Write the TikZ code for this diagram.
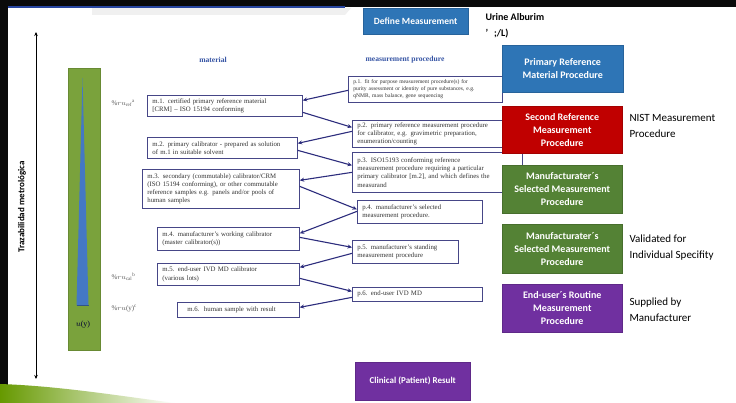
\documentclass[tikz,border=0pt]{standalone}
\usepackage{fontspec}
\setmainfont{Liberation Serif}
\setsansfont{Carlito}
\usetikzlibrary{arrows.meta}
\definecolor{mborder}{RGB}{70,70,135}
\definecolor{arrcol}{RGB}{45,45,125}
\definecolor{hdrblue}{RGB}{55,85,165}
\definecolor{defblue}{RGB}{46,117,182}
\definecolor{redbox}{RGB}{192,0,0}
\definecolor{greenbox}{RGB}{84,130,53}
\definecolor{purplebox}{RGB}{112,48,160}
\definecolor{bargreen}{RGB}{122,162,60}
\definecolor{triblue}{RGB}{68,120,196}
\definecolor{swgreen}{RGB}{102,153,0}
\definecolor{topblue}{RGB}{40,70,160}
\definecolor{bandblack}{RGB}{10,10,10}
\begin{document}
\begin{tikzpicture}[x=1pt,y=-1pt,
  mbox/.style={draw=mborder, line width=0.7pt, fill=white, anchor=north west, align=left,
    font=\fontsize{6.8}{8.2}\selectfont, inner xsep=5pt, inner ysep=1.5pt, text=black!80},
  mb/.style n args={2}{mbox, text width=#1-10pt, minimum height=#2},
  cbox/.style={draw=#1!85!black, line width=0.5pt, fill=#1, text=white, anchor=north west,
    font=\sffamily\bfseries\fontsize{10}{13}\selectfont, align=center, inner sep=1pt},
  cb/.style n args={3}{cbox=#1, minimum width=#2, minimum height=#3},
  arr/.style={draw=arrcol, line width=1.1pt, -{Stealth[length=4.5pt,width=4pt]}},
  side/.style={anchor=west, align=left, font=\sffamily\fontsize{11}{16}\selectfont, text=black},
  hdr/.style={font=\bfseries\fontsize{7.6}{9}\selectfont, text=hdrblue},
  rul/.style={anchor=west, font=\fontsize{7}{8}\selectfont, text=black!65},
  band/.style={fill=bandblack, draw=none, inner sep=0pt, anchor=north west}
]
\useasboundingbox (0,0) rectangle (736,403);
\fill[white] (0,0) rectangle (736,403);
% frame decorations
\node[band, minimum width=736pt, minimum height=7pt] (topband) at (0,0) {};
\node[band, minimum width=8pt, minimum height=386pt] (leftband) at (0,0) {};
\fill[gray!12] (92,8) -- (351,8) -- (345,15) -- (92,15) -- cycle;
\fill[topblue] (8,6.5) rectangle (345,8.5);
\shade[left color=swgreen, middle color=swgreen, right color=white]
  (0,384) .. controls (60,386) and (120,396) .. (175,403) -- (0,403) -- cycle;

% vertical arrow and label
\coordinate (atop) at (36,32);
\coordinate (abot) at (36,379);
\draw[line width=0.7pt, {Stealth[length=4pt,width=3.5pt]}-{Stealth[length=4pt,width=3.5pt]}] (atop) -- (abot);
\node[rotate=90, font=\sffamily\bfseries\fontsize{9}{11}\selectfont] (trz) at (22,207) {Trazabilidad metrológica};

% green bar with triangle
\node[fill=bargreen, draw=bargreen!85!black, line width=0.4pt, anchor=north west, minimum width=32pt, minimum height=282pt, inner sep=0pt] (bar) at (68,68) {};
\fill[triblue] (82.5,78) -- (88.5,305) -- (76.5,305) -- cycle;
\draw[triblue!70!black, line width=0.6pt] (76.5,305) -- (88.5,305);
\node[font=\fontsize{8}{10}\selectfont, text=black!80!blue] (uy) at (83,325) {$u$(y)};

% left labels
\node[rul] (r1) at (108,103) {\%$ru_{\mathrm{ref}}$\textsuperscript{a}};
\node[rul] (r2) at (108,277) {\%$ru_{\mathrm{cal}}$\textsuperscript{b}};
\node[rul] (r3) at (108,309) {\%$ru$(y)\textsuperscript{c}};

% headers
\node[hdr] (hm) at (213,60) {material};
\node[hdr] (hp) at (405,60) {measurement procedure};

% material boxes
\node[mb={155pt}{21pt}] (m1) at (147,95) {m.1. certified primary reference material\\{}[CRM] – ISO 15194 conforming};
\node[mb={150pt}{21pt}] (m2) at (147,137) {m.2. primary calibrator - prepared as solution\\of m.1 in suitable solvent};
\node[mb={157pt}{39pt}] (m3) at (142,169) {m.3. secondary (commutable) calibrator/CRM\\(ISO 15194 conforming), or other commutable\\reference samples e.g. panels and/or pools of\\human samples};
\node[mb={142pt}{23pt}] (m4) at (157,227) {m.4. manufacturer's working calibrator\\(master calibrator(s))};
\node[mb={142pt}{22pt}] (m5) at (157,263) {m.5. end-user IVD MD calibrator\\(various lots)};
\node[mb={122pt}{15pt}, inner xsep=10pt, text width=102pt] (m6) at (177,302) {m.6.\ \ human sample with result};

% procedure boxes
\node[mb={170pt}{40pt}] (p3) at (352,152) {p.3. ISO15193 conforming reference\\measurement procedure requiring a particular\\primary calibrator [m.2], and which defines the\\measurand};
\node[mb={154pt}{26pt}, font=\fontsize{5.6}{6.9}\selectfont] (p1) at (348,76) {p.1. fit for purpose measurement procedure(s) for\\purity assessment or identity of pure substances, e.g.\\qNMR, mass balance, gene sequencing};
\node[mb={150pt}{27pt}] (p2) at (352,120) {p.2. primary reference measurement procedure\\for calibrator, e.g. gravimetric preparation,\\enumeration/counting};
\node[mb={125pt}{23pt}] (p4) at (357,200) {p.4. manufacturer's selected\\measurement procedure.};
\node[mb={106pt}{23pt}] (p5) at (352,240) {p.5. manufacturer's standing\\measurement procedure};
\node[mb={130pt}{14pt}] (p6) at (352,287) {p.6. end-user IVD MD};

% connectors
\draw[arr] ([yshift=-1pt]p1.west) -- ([yshift=5.5pt]m1.east);
\draw[arr] ([yshift=-6.5pt]m1.east) -- ([yshift=6.5pt]p2.west);
\draw[arr] ([yshift=2.5pt]p2.west) -- ([yshift=4.5pt]m2.east);
\draw[arr] ([yshift=-2.5pt]m2.east) -- ([yshift=7pt]p3.west);
\draw[arr] ([yshift=0pt]p3.west) -- ([yshift=8.5pt]m3.east);
\draw[arr] ([yshift=2.5pt]m3.east) -- ([yshift=2.5pt]p4.west);
\draw[arr] ([yshift=0.5pt]p4.west) -- ([yshift=5.5pt]m4.east);
\draw[arr] ([yshift=1.5pt]m4.east) -- ([yshift=4.5pt]p5.west);
\draw[arr] ([yshift=-1.5pt]p5.west) -- ([yshift=7pt]m5.east);
\draw[arr] ([yshift=-4pt]m5.east) -- ([yshift=3pt]p6.west);
\draw[arr] ([yshift=-3pt]p6.west) -- ([yshift=2.5pt]m6.east);

% coloured boxes
\node[cb={defblue}{105pt}{26pt}, font=\sffamily\bfseries\fontsize{9.5}{12}\selectfont] (def) at (363,8) {Define Measurement};
\node[anchor=west, align=left, font=\sffamily\bfseries\fontsize{10}{16}\selectfont] (urine) at (482,26) {Urine Alburim\\’\hspace{6pt};/L)};
\node[cb={defblue}{121pt}{47pt}] (prmp) at (502,45) {Primary Reference\\Material Procedure};
\node[cb={redbox}{120pt}{47pt}] (srmp) at (502,106) {Second Reference\\Measurement\\Procedure};
\node[cb={greenbox}{120pt}{48pt}] (msmp1) at (502,165) {Manufacturater´s\\Selected Measurement\\Procedure};
\node[cb={greenbox}{120pt}{49pt}] (msmp2) at (502,224) {Manufacturater´s\\Selected Measurement\\Procedure};
\node[cb={purplebox}{120pt}{48pt}] (eur) at (502,284) {End-user´s Routine\\Measurement\\Procedure};
\node[cb={purplebox}{115pt}{38pt}, font=\sffamily\bfseries\fontsize{9}{11}\selectfont] (clin) at (355,362) {Clinical (Patient) Result};

% side texts
\node[side] (nist) at (626,126) {NIST Measurement\\Procedure};
\node[side] (valid) at (626,248) {Validated for\\Individual Specifity};
\node[side] (supp) at (626,310) {Supplied by\\Manufacturer};
\end{tikzpicture}
\end{document}
